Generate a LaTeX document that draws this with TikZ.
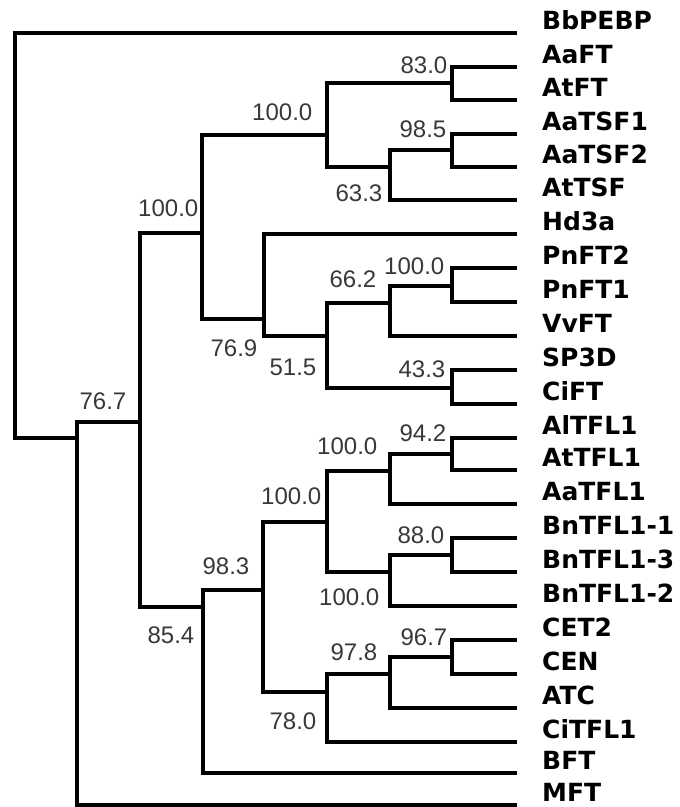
\documentclass[tikz,border=0pt]{standalone}
\usepackage{fontspec}
\setmainfont{DejaVu Sans}
\newfontfamily\bootfont{Liberation Sans}
\begin{document}
\begin{tikzpicture}[x=1pt,y=-1pt,
  branch/.style={line width=3.2pt,black},
  leaflab/.style={anchor=base west,inner sep=0pt,font=\bfseries\fontsize{25}{30}\selectfont},
  boot/.style={anchor=east,inner sep=0pt,text=black!78,font=\bootfont\fontsize{24}{28}\selectfont}]
\useasboundingbox (0,0) rectangle (680,807);
% leaves: line ends and labels
\foreach \i/\y/\t in {0/33/BbPEBP,1/67/AaFT,2/100/AtFT,3/134/AaTSF1,4/167/AaTSF2,5/200/AtTSF,
  6/234/Hd3a,7/268/PnFT2,8/302/PnFT1,9/336/VvFT,10/370/SP3D,11/404/CiFT,12/438/AlTFL1,
  13/470/AtTFL1,14/504/AaTFL1,15/538/BnTFL1-1,16/572/BnTFL1-3,17/606/BnTFL1-2,18/640/CET2,
  19/674/CEN,20/708/ATC,21/742/CiTFL1,22/773/BFT,23/805/MFT}{
  \coordinate (e\i) at (517,\y);
  \node[leaflab] (n\i) at (542,\y-4) {\t};
}
% internal nodes (x of vertical, y of connection to parent)
\coordinate (R) at (15,419);
\coordinate (A) at (77,438);
\coordinate (B) at (140,422);
\coordinate (C) at (202,233);
\coordinate (E) at (327,135);
\coordinate (G) at (452,83);
\coordinate (H) at (390,167);
\coordinate (I) at (452,150);
\coordinate (F) at (264,319);
\coordinate (J) at (327,336);
\coordinate (K) at (390,303);
\coordinate (M) at (452,286);
\coordinate (L) at (452,388);
\coordinate (D) at (203,607);
\coordinate (N) at (263,590);
\coordinate (O) at (327,522);
\coordinate (Q) at (390,471);
\coordinate (T) at (452,454);
\coordinate (S) at (390,572);
\coordinate (U) at (452,555);
\coordinate (P) at (327,692);
\coordinate (V) at (390,674);
\coordinate (W) at (452,657);
% branches
\draw[branch] (e0) -| (R) |- (A);
\draw[branch] (B) -| (A) |- (e23);
\draw[branch] (C) -| (B) |- (D);
\draw[branch] (E) -| (C) |- (F);
\draw[branch] (G) -| (E) |- (H);
\draw[branch] (e1) -| (G) |- (e2);
\draw[branch] (I) -| (H) |- (e5);
\draw[branch] (e3) -| (I) |- (e4);
\draw[branch] (e6) -| (F) |- (J);
\draw[branch] (K) -| (J) |- (L);
\draw[branch] (M) -| (K) |- (e9);
\draw[branch] (e7) -| (M) |- (e8);
\draw[branch] (e10) -| (L) |- (e11);
\draw[branch] (N) -| (D) |- (e22);
\draw[branch] (O) -| (N) |- (P);
\draw[branch] (Q) -| (O) |- (S);
\draw[branch] (T) -| (Q) |- (e14);
\draw[branch] (e12) -| (T) |- (e13);
\draw[branch] (U) -| (S) |- (e17);
\draw[branch] (e15) -| (U) |- (e16);
\draw[branch] (V) -| (P) |- (e21);
\draw[branch] (W) -| (V) |- (e20);
\draw[branch] (e18) -| (W) |- (e19);
% bootstrap values
\node[boot] (bB) at (126.5,401.5) {76.7};
\node[boot] (bC) at (198.5,208) {100.0};
\node[boot] (bE) at (312.5,112) {100.0};
\node[boot] (bG) at (447.5,65) {83.0};
\node[boot] (bH) at (382.5,193.5) {63.3};
\node[boot] (bI) at (446.5,129.5) {98.5};
\node[boot] (bF) at (257.5,348.5) {76.9};
\node[boot] (bJ) at (316.5,367.5) {51.5};
\node[boot] (bK) at (376.5,279.5) {66.2};
\node[boot] (bM) at (444.5,266.5) {100.0};
\node[boot] (bL) at (445.5,369.5) {43.3};
\node[boot] (bD) at (194.5,635) {85.4};
\node[boot] (bN) at (249.5,566) {98.3};
\node[boot] (bO) at (321.5,496) {100.0};
\node[boot] (bQ) at (377.5,446) {100.0};
\node[boot] (bT) at (446.5,433.5) {94.2};
\node[boot] (bS) at (379.5,597.5) {100.0};
\node[boot] (bU) at (444.5,535) {88.0};
\node[boot] (bP) at (316.5,721) {78.0};
\node[boot] (bV) at (377.5,652.5) {97.8};
\node[boot] (bW) at (447.5,637.5) {96.7};
\end{tikzpicture}
\end{document}
